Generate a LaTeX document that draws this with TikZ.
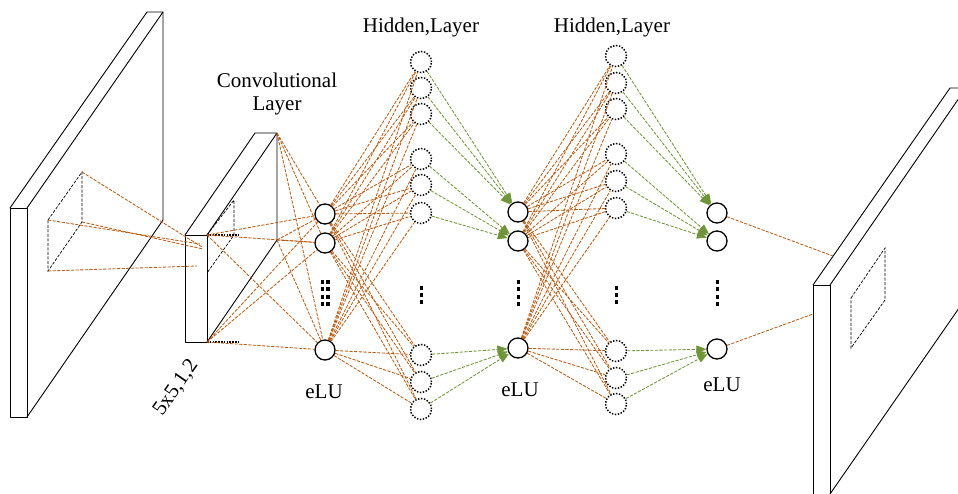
\documentclass[tikz,border=0pt]{standalone}
\usepackage{fontspec}
\setmainfont{Liberation Serif}
\usetikzlibrary{arrows.meta}
\definecolor{linkorange}{RGB}{184,92,22}
\definecolor{linkgreen}{RGB}{112,148,58}

\begin{document}
\begin{tikzpicture}[x=1pt,y=-1pt,
  plate/.style={draw=black, line width=0.9pt, line join=round},
  window/.style={draw=black, line width=0.7pt, dash pattern=on 3pt off 1.5pt},
  wire/.style={draw=linkorange, line width=0.85pt, dash pattern=on 3.2pt off 1.4pt},
  feed/.style={draw=linkgreen, line width=0.85pt, dash pattern=on 3.2pt off 1.4pt,
    -{Triangle[length=10pt,width=8pt,fill=linkgreen]}},
  unit/.style={circle, draw=black, line width=1.3pt, minimum size=20pt, inner sep=0pt},
  hid/.style={circle, draw=black, line width=1.5pt, dash pattern=on 1.4pt off 1.6pt,
    minimum size=21pt, inner sep=0pt},
  lbl/.style={font=\fontsize{21}{23}\selectfont, inner sep=0pt},
  edgedots/.style={draw=black, line width=1.6pt, dash pattern=on 1.6pt off 1.2pt},
]
\useasboundingbox (0,0) rectangle (958,493);
\clip (0,0) rectangle (958,493);

% ---------- input plate ----------
\draw[plate] (10,208) rectangle (27,417);
\draw[plate] (10,208) -- (147,12) -- (163,12) -- (27,208);
\draw[plate] (163,12) -- (163,220) -- (27,417);
\coordinate (sqA) at (48,220);
\coordinate (sqB) at (82,172);
\coordinate (sqC) at (82,222);
\coordinate (sqD) at (48,271);
\draw[window] (sqA) -- (sqB) -- (sqC) -- (sqD) -- cycle;

% ---------- convolutional plate ----------
\coordinate (cFrontTop) at (207,235);
\coordinate (cFrontBot) at (207,342);
\coordinate (cTopBack) at (277,133);
\coordinate (cBackBot) at (277,240);
\draw[plate] (185,235) rectangle (cFrontBot);
\draw[plate] (185,235) -- (255,133) -- (cTopBack) -- (cFrontTop);
\draw[plate] (cTopBack) -- (cBackBot) -- (cFrontBot);
\draw[window] (cFrontTop) -- (234,200) -- (234,235) -- (207,273);
\draw[edgedots] (cFrontTop) -- (238,235);
\draw[edgedots] (cFrontBot) -- (238,342);

% receptive field projected onto the convolutional plate
\coordinate (pA) at (200,244);
\coordinate (pB) at (202,247);
\coordinate (pC) at (203,249);
\coordinate (pD) at (197,266);
\draw[wire] (sqA) -- (pA);
\draw[wire] (sqB) -- (pB);
\draw[wire] (sqC) -- (pC);
\draw[wire] (sqD) -- (pD);

% ---------- output plate ----------
\draw[plate] (813,285) rectangle (830,505);
\draw[plate] (813,285) -- (950,88) -- (966,88) -- (830,285);
\draw[plate] (830,494) -- (966,298);
\draw[window] (851,298) -- (885,248) -- (885,300) -- (851,348) -- cycle;
\coordinate (oA) at (833,256);
\coordinate (oB) at (813,314);

% ---------- units ----------
\node[unit] (e11) at (325,214) {};
\node[unit] (e12) at (325,243) {};
\node[unit] (e13) at (325,350) {};

\node[unit] (e21) at (518,212) {};
\node[unit] (e22) at (518,241) {};
\node[unit] (e23) at (518,348) {};

\node[unit] (e31) at (717,213) {};
\node[unit] (e32) at (717,241) {};
\node[unit] (e33) at (717,349) {};

\foreach \y [count=\i] in {62,88,114,159,185,213,355,382,409}
  \node[hid] (h1\i) at (421,\y) {};
\foreach \y [count=\i] in {56,83,109,154,181,208,351,378,404}
  \node[hid] (h2\i) at (616,\y) {};

% vertical ellipses
\foreach \y in {280,287,295,302} {
  \fill (320.5,\y) rectangle ++(3.8,3.8);
  \fill (326,\y) rectangle ++(3.8,3.8);
  \fill (516.5,\y) rectangle ++(3.8,3.8);
  \fill (715.5,\y) rectangle ++(3.8,3.8);
}
\foreach \y in {286,293,300} {
  \fill (419.5,\y) rectangle ++(3.8,3.8);
  \fill (614.5,\y) rectangle ++(3.8,3.8);
}

% ---------- connections ----------
\foreach \c in {cTopBack,cFrontTop,cBackBot,cFrontBot}
  \foreach \n in {1,2,3}
    \draw[wire] (\c) -- (e1\n);

\foreach \n in {1,2,3}
  \foreach \j in {1,...,9} {
    \draw[wire] (e1\n) -- (h1\j);
    \draw[wire] (e2\n) -- (h2\j);
  }

\foreach \j/\t in {1/1,2/1,3/1,4/2,5/2,6/2,7/3,8/3,9/3} {
  \draw[feed] (h1\j) -- (e2\t);
  \draw[feed] (h2\j) -- (e3\t);
}

\draw[wire] (e31) -- (oA);
\draw[wire] (e33) -- (oB);

% ---------- labels ----------
\node[lbl, align=center] (convlbl) at (277,94) {Convolutional\\Layer};
\node[lbl] (hidlbl1) at (421,27) {Hidden,Layer};
\node[lbl] (hidlbl2) at (612,27) {Hidden,Layer};
\node[lbl] (elu1) at (324,392) {eLU};
\node[lbl] (elu2) at (520,390) {eLU};
\node[lbl] (elu3) at (722,385) {eLU};
\node[lbl, rotate=55] (kernel) at (176,388) {5x5,1,2};
\end{tikzpicture}
\end{document}
